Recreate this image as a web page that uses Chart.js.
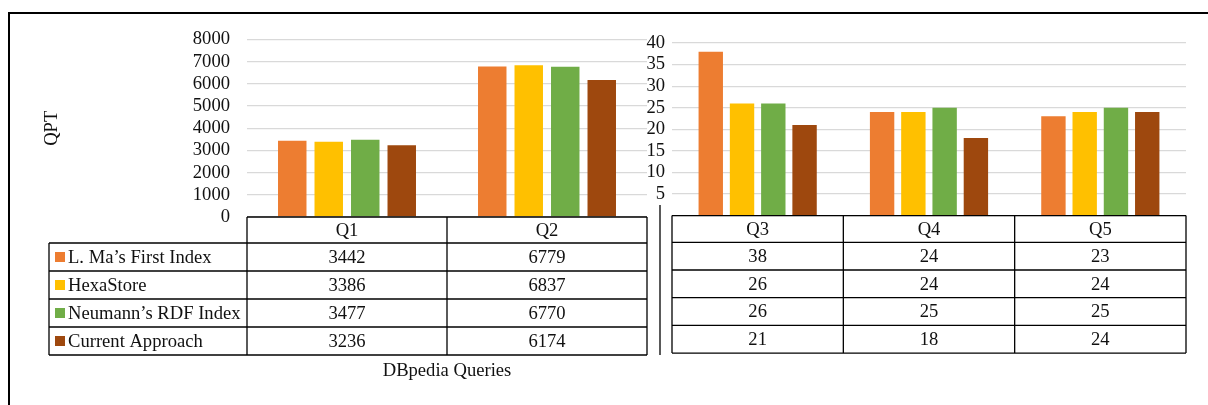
<!DOCTYPE html>
<html><head><meta charset="utf-8">
<script src="https://cdn.jsdelivr.net/npm/chart.js@4/dist/chart.umd.min.js"></script>
<style>
html,body{margin:0;padding:0;background:#fff;}
#wrap{position:relative;width:1208px;height:405px;overflow:hidden;background:#fff;}
#frame{position:absolute;left:8px;top:12px;width:1400px;height:600px;border-left:2px solid #000;border-top:2px solid #000;}
#c1{position:absolute;left:0;top:0;}
#c2{position:absolute;left:610px;top:0;}
</style></head>
<body>
<div id="wrap">
  <div id="frame"></div>
  <canvas id="c1" width="660" height="405" style="width:660px;height:405px"></canvas>
  <canvas id="c2" width="598" height="405" style="width:598px;height:405px"></canvas>
</div>
<script>
// ---- data ----
const seriesNames = ["L. Ma\u2019s First Index", "HexaStore", "Neumann\u2019s RDF Index", "Current Approach"];
const seriesColors = ["#ED7D31", "#FFC000", "#70AD47", "#9E480E"];
const leftCategories = ["Q1", "Q2"];
const rightCategories = ["Q3", "Q4", "Q5"];
const maFirstLeft = [3442, 6779];
const hexaStoreLeft = [3386, 6837];
const neumannLeft = [3477, 6770];
const currentLeft = [3236, 6174];
const maFirstRight = [38, 24, 23];
const hexaStoreRight = [26, 24, 24];
const neumannRight = [26, 25, 25];
const currentRight = [21, 18, 24];
const leftAxis = {min: 0, max: 8000, step: 1000};
const rightAxis = {min: 0, max: 40, step: 5};
const yTitle = "QPT";
const xTitle = "DBpedia Queries";

const FONT = "'Liberation Serif', 'Times New Roman', serif";
const FS = 18.6;
Chart.defaults.font.family = FONT;
Chart.defaults.font.size = FS;
Chart.defaults.color = '#000';

function makeDatasets(arrays){
  return arrays.map((d, i) => ({
    label: seriesNames[i], data: d, backgroundColor: seriesColors[i],
    borderWidth: 0, categoryPercentage: 0.73, barPercentage: 0.78
  }));
}

const tablePlugin = {
  id: 'dataTable',
  afterDraw(chart, args, o){
    const ctx = chart.ctx, ca = chart.chartArea, xs = chart.scales.x;
    const labels = chart.data.labels, n = labels.length;
    const cw = (ca.right - ca.left) / n;
    const top = ca.bottom, hh = o.headerH, rh = o.rowH;
    const ds = chart.data.datasets, rows = ds.length;
    const bottom = top + hh + rh * rows;
    const leftEdge = o.legend ? o.legendLeft : ca.left;
    ctx.save();
    ctx.strokeStyle = '#000'; ctx.lineWidth = 1.3;
    const line = (x1, y1, x2, y2) => { ctx.beginPath(); ctx.moveTo(x1, y1); ctx.lineTo(x2, y2); ctx.stroke(); };
    line(ca.left, top, ca.right, top);
    for (let r = 0; r <= rows; r++) { const y = top + hh + r * rh; line(leftEdge, y, ca.right, y); }
    for (let i = 0; i < n; i++) {
      const c = xs.getPixelForValue(i);
      line(c - cw / 2, top, c - cw / 2, bottom);
      if (i === n - 1) line(c + cw / 2, top, c + cw / 2, bottom);
    }
    if (o.legend) line(leftEdge, top + hh, leftEdge, bottom);
    ctx.fillStyle = '#111';
    ctx.font = FS + 'px ' + FONT;
    ctx.textBaseline = 'middle';
    ctx.textAlign = 'center';
    for (let i = 0; i < n; i++) {
      const c = xs.getPixelForValue(i);
      ctx.fillText(labels[i], c, top + hh / 2 + 1);
      for (let r = 0; r < rows; r++) {
        ctx.fillText(String(ds[r].data[i]), c, top + hh + r * rh + rh / 2 + 1);
      }
    }
    if (o.legend) {
      ctx.textAlign = 'left';
      for (let r = 0; r < rows; r++) {
        const yc = top + hh + r * rh + rh / 2;
        ctx.fillStyle = ds[r].backgroundColor;
        ctx.fillRect(leftEdge + 6, yc - 5, 10, 10);
        ctx.fillStyle = '#111';
        ctx.fillText(ds[r].label, leftEdge + 19, yc + 1);
      }
    }
    if (o.xTitle) {
      ctx.textAlign = 'center';
      ctx.fillStyle = '#111';
      ctx.fillText(o.xTitle, (ca.left + ca.right) / 2, o.xTitleY);
    }
    if (o.divider) {
      ctx.lineWidth = 1.3;
      line(o.divider.x, o.divider.y1, o.divider.x, o.divider.y2);
    }
    ctx.restore();
  }
};

const gridOpts = {color: '#D9D9D9', lineWidth: 1.3, drawTicks: false};

new Chart(document.getElementById('c1'), {
  type: 'bar',
  data: {labels: leftCategories, datasets: makeDatasets([maFirstLeft, hexaStoreLeft, neumannLeft, currentLeft])},
  options: {
    responsive: false, animation: false, devicePixelRatio: 1,
    layout: {padding: {left: 0, right: 13, top: 39.5, bottom: 188}},
    plugins: {legend: {display: false}, tooltip: {enabled: false},
      dataTable: {headerH: 26, rowH: 28, legend: true, legendLeft: 49, xTitle: xTitle, xTitleY: 371}},
    scales: {
      x: {display: false},
      y: {
        min: leftAxis.min, max: leftAxis.max,
        afterFit: s => { s.width = 247; },
        ticks: {stepSize: leftAxis.step, autoSkip: false, padding: 17, color: '#111',
          font: {size: FS, lineHeight: 1}, callback: v => String(v)},
        grid: gridOpts, border: {display: false},
        title: {display: true, text: yTitle, color: '#111', font: {size: FS}, padding: {top: 41, bottom: 0}}
      }
    }
  },
  plugins: [tablePlugin]
});

new Chart(document.getElementById('c2'), {
  type: 'bar',
  data: {labels: rightCategories, datasets: makeDatasets([maFirstRight, hexaStoreRight, neumannRight, currentRight])},
  options: {
    responsive: false, animation: false, devicePixelRatio: 1,
    layout: {padding: {left: 0, right: 22, top: 43, bottom: 189.4}},
    plugins: {legend: {display: false}, tooltip: {enabled: false},
      dataTable: {headerH: 26.7, rowH: 27.7, legend: false, divider: {x: 50, y1: 205, y2: 355}}},
    scales: {
      x: {display: false},
      y: {
        min: rightAxis.min, max: rightAxis.max,
        afterFit: s => { s.width = 62; },
        ticks: {stepSize: rightAxis.step, autoSkip: false, padding: 7, color: '#111',
          font: {size: FS, lineHeight: 1}, callback: v => v === 0 ? '' : String(v)},
        grid: gridOpts, border: {display: false}
      }
    }
  },
  plugins: [tablePlugin]
});
</script>
</body></html>
